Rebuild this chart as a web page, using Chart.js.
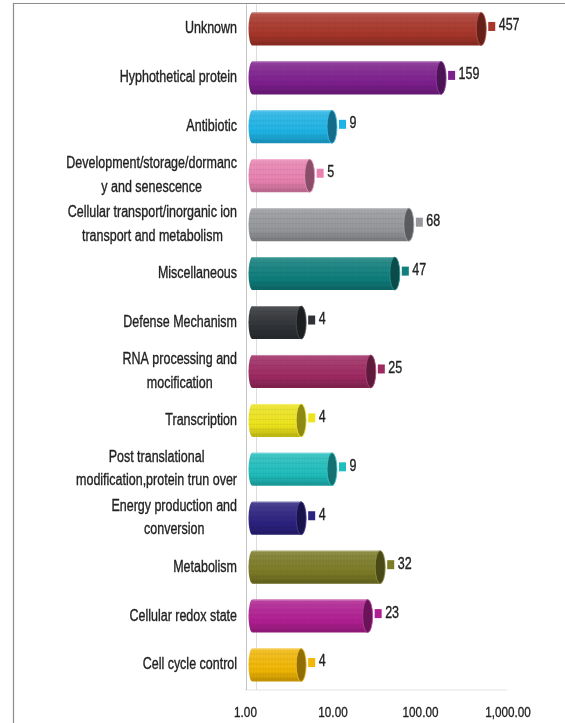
<!DOCTYPE html>
<html>
<head>
<meta charset="utf-8">
<script src="https://cdn.jsdelivr.net/npm/chart.js@4.4.1/dist/chart.umd.min.js"></script>
<style>
  html, body { margin: 0; padding: 0; background: #fff; }
  #wrap { width: 565px; height: 723px; position: relative; }
</style>
</head>
<body>
<div id="wrap"><canvas id="c" width="565" height="723"></canvas></div>
<script>
// Functional categories (multi-line names are wrapped as in the figure)
const CATEGORIES = [
  ['Unknown'],
  ['Hyphothetical protein'],
  ['Antibiotic'],
  ['Development/storage/dormanc', 'y and senescence'],
  ['Cellular transport/inorganic ion', 'transport and metabolism'],
  ['Miscellaneous'],
  ['Defense Mechanism'],
  ['RNA processing and', 'mocification'],
  ['Transcription'],
  ['Post translational', 'modification,protein trun over'],
  ['Energy production and', 'conversion'],
  ['Metabolism'],
  ['Cellular redox state'],
  ['Cell cycle control']
];

// Number of genes per category
const COUNTS = [457, 159, 9, 5, 68, 47, 4, 25, 4, 9, 4, 32, 23, 4];

const BAR_COLORS = [
  '#A8362B', '#7E1F8E', '#1FB4E6', '#E882B0', '#96989C', '#0F7E7C', '#2F3236',
  '#9E2A62', '#EDE41C', '#20BEBD', '#2C2280', '#7C7B26', '#B01F92', '#F2B705'
];

const TICK_VALUES = [1, 10, 100, 1000];
const TICK_LABELS = ['1.00', '10.00', '100.00', '1,000.00'];

// Narrow sans text: Liberation Sans squeezed horizontally
const FONT = '"Liberation Sans", Arial, sans-serif';
const SQUEEZE = 0.78;
const TEXT_COLOR = '#222';

function shade(hex, f) {
  const n = parseInt(hex.slice(1), 16);
  let r = (n >> 16) & 255, g = (n >> 8) & 255, b = n & 255;
  if (f < 0) { r *= 1 + f; g *= 1 + f; b *= 1 + f; }
  else { r += (255 - r) * f; g += (255 - g) * f; b += (255 - b) * f; }
  return `rgb(${Math.round(r)},${Math.round(g)},${Math.round(b)})`;
}

function narrowText(ctx, text, x, y, align, size) {
  ctx.save();
  ctx.font = `${size}px ${FONT}`;
  ctx.fillStyle = TEXT_COLOR;
  ctx.strokeStyle = TEXT_COLOR;
  ctx.lineWidth = 0.35;
  ctx.textAlign = align;
  ctx.textBaseline = 'middle';
  ctx.translate(x, y);
  ctx.scale(SQUEEZE, 1);
  ctx.fillText(text, 0, 0);
  ctx.strokeText(text, 0, 0);
  ctx.restore();
}

function narrowWidth(ctx, text, size) {
  ctx.save();
  ctx.font = `${size}px ${FONT}`;
  const w = ctx.measureText(text).width * SQUEEZE;
  ctx.restore();
  return w;
}

// White background, outer frame and the axis wall lines
const framePlugin = {
  id: 'frame',
  beforeDraw(chart) {
    const ctx = chart.ctx;
    ctx.save();
    ctx.fillStyle = '#fff';
    ctx.fillRect(0, 0, chart.width, chart.height);
    ctx.strokeStyle = '#8c8c8c';
    ctx.lineWidth = 1.2;
    ctx.beginPath();
    ctx.moveTo(13.5, chart.height);
    ctx.lineTo(13.5, 3.5);
    ctx.lineTo(chart.width, 3.5);
    ctx.stroke();
    ctx.restore();
  },
  beforeDatasetsDraw(chart) {
    const ctx = chart.ctx;
    const a = chart.chartArea;
    ctx.save();
    ctx.lineWidth = 1;
    ctx.strokeStyle = '#e2e2e2';
    ctx.beginPath();
    ctx.moveTo(245, a.bottom + 0.5);
    ctx.lineTo(chart.scales.x.getPixelForValue(1000) - 4, a.bottom + 0.5);
    ctx.stroke();
    ctx.strokeStyle = '#dcdcdc';
    ctx.beginPath();
    ctx.moveTo(256.5, a.top);
    ctx.lineTo(256.5, a.bottom + 0.5);
    ctx.stroke();
    ctx.strokeStyle = '#c4c4c4';
    ctx.beginPath();
    ctx.moveTo(246.5, a.top);
    ctx.lineTo(246.5, a.bottom + 0.5);
    ctx.stroke();
    ctx.restore();
  }
};

// Cylinder-shaped bars drawn over each bar element's geometry
const cylinderPlugin = {
  id: 'cylinders',
  afterDatasetsDraw(chart) {
    const ctx = chart.ctx;
    const meta = chart.getDatasetMeta(0);
    meta.data.forEach((bar, i) => {
      const col = BAR_COLORS[i];
      const x = bar.x, yc = bar.y, base = bar.base, h = bar.height;
      const top = yc - h / 2, bot = yc + h / 2;
      const rl = 4, rx = 5;
      ctx.save();
      // body
      ctx.beginPath();
      ctx.moveTo(base + rl, top);
      ctx.lineTo(x, top);
      ctx.lineTo(x, bot);
      ctx.lineTo(base + rl, bot);
      ctx.ellipse(base + rl, yc, rl, h / 2, 0, Math.PI / 2, Math.PI * 1.5);
      ctx.closePath();
      const g = ctx.createLinearGradient(0, top, 0, bot);
      g.addColorStop(0, shade(col, 0.16));
      g.addColorStop(0.3, shade(col, 0.07));
      g.addColorStop(0.65, col);
      g.addColorStop(1, shade(col, -0.2));
      ctx.fillStyle = g;
      ctx.fill();
      ctx.clip();
      // fine stripes
      ctx.lineWidth = 1;
      ctx.strokeStyle = 'rgba(0,0,0,0.035)';
      for (let sx = base + 2; sx < x; sx += 3) {
        ctx.beginPath(); ctx.moveTo(sx + 0.5, top); ctx.lineTo(sx + 0.5, bot); ctx.stroke();
      }
      ctx.strokeStyle = 'rgba(0,0,0,0.06)';
      for (let sy = top + 5; sy < bot - 1; sy += 5) {
        ctx.beginPath(); ctx.moveTo(base, sy + 0.5); ctx.lineTo(x, sy + 0.5); ctx.stroke();
      }
      ctx.restore();
      // light rim along the top edge
      ctx.save();
      ctx.strokeStyle = shade(col, 0.4);
      ctx.lineWidth = 1;
      ctx.beginPath();
      ctx.moveTo(base + rl, top + 0.5);
      ctx.lineTo(x, top + 0.5);
      ctx.stroke();
      // end cap
      ctx.beginPath();
      ctx.ellipse(x, yc, rx, h / 2, 0, 0, Math.PI * 2);
      ctx.fillStyle = shade(col, -0.4);
      ctx.fill();
      ctx.strokeStyle = shade(col, 0.15);
      ctx.lineWidth = 0.8;
      ctx.stroke();
      ctx.restore();

      // value marker + label
      ctx.save();
      ctx.fillStyle = col;
      ctx.fillRect(x + 7, yc - 7, 7, 9);
      ctx.restore();
      narrowText(ctx, String(COUNTS[i]), x + 17.5, yc - 3, 'left', 16);
    });
  }
};

// Category names (each block right-aligned, its lines centred on each other)
// and the value-axis tick labels
const textPlugin = {
  id: 'axisText',
  afterDraw(chart) {
    const ctx = chart.ctx;
    const ys = chart.scales.y;
    const xs = chart.scales.x;
    const lh = 23.5, right = 237;
    CATEGORIES.forEach((lines, i) => {
      const yc = ys.getPixelForTick(i);
      const w = Math.max(...lines.map(l => narrowWidth(ctx, l, 16)));
      const cx = right - w / 2;
      const y0 = yc - (lines.length - 1) * lh / 2;
      lines.forEach((l, k) => narrowText(ctx, l, cx, y0 + k * lh, 'center', 16));
    });
    TICK_VALUES.forEach((v, i) => {
      narrowText(ctx, TICK_LABELS[i], xs.getPixelForValue(v) - 3, 713, 'center', 15);
    });
  }
};

new Chart(document.getElementById('c'), {
  type: 'bar',
  data: {
    labels: CATEGORIES,
    datasets: [{
      data: COUNTS,
      backgroundColor: 'rgba(0,0,0,0)',
      borderWidth: 0,
      barThickness: 33
    }]
  },
  options: {
    indexAxis: 'y',
    responsive: false,
    animation: false,
    devicePixelRatio: 1,
    layout: { padding: { left: 0, right: 54, top: 4.5, bottom: 0 } },
    plugins: { legend: { display: false }, tooltip: { enabled: false } },
    scales: {
      y: {
        type: 'category',
        grid: { display: false },
        border: { display: false },
        ticks: { display: false },
        afterFit(s) { s.width = 248.5; }
      },
      x: {
        type: 'logarithmic',
        min: 1,
        max: 1000,
        grid: { display: false, drawTicks: false },
        border: { display: false },
        afterBuildTicks(s) { s.ticks = TICK_VALUES.map(v => ({ value: v })); },
        afterFit(s) { s.height = 33.5; },
        ticks: { display: false }
      }
    }
  },
  plugins: [framePlugin, cylinderPlugin, textPlugin]
});
</script>
</body>
</html>
